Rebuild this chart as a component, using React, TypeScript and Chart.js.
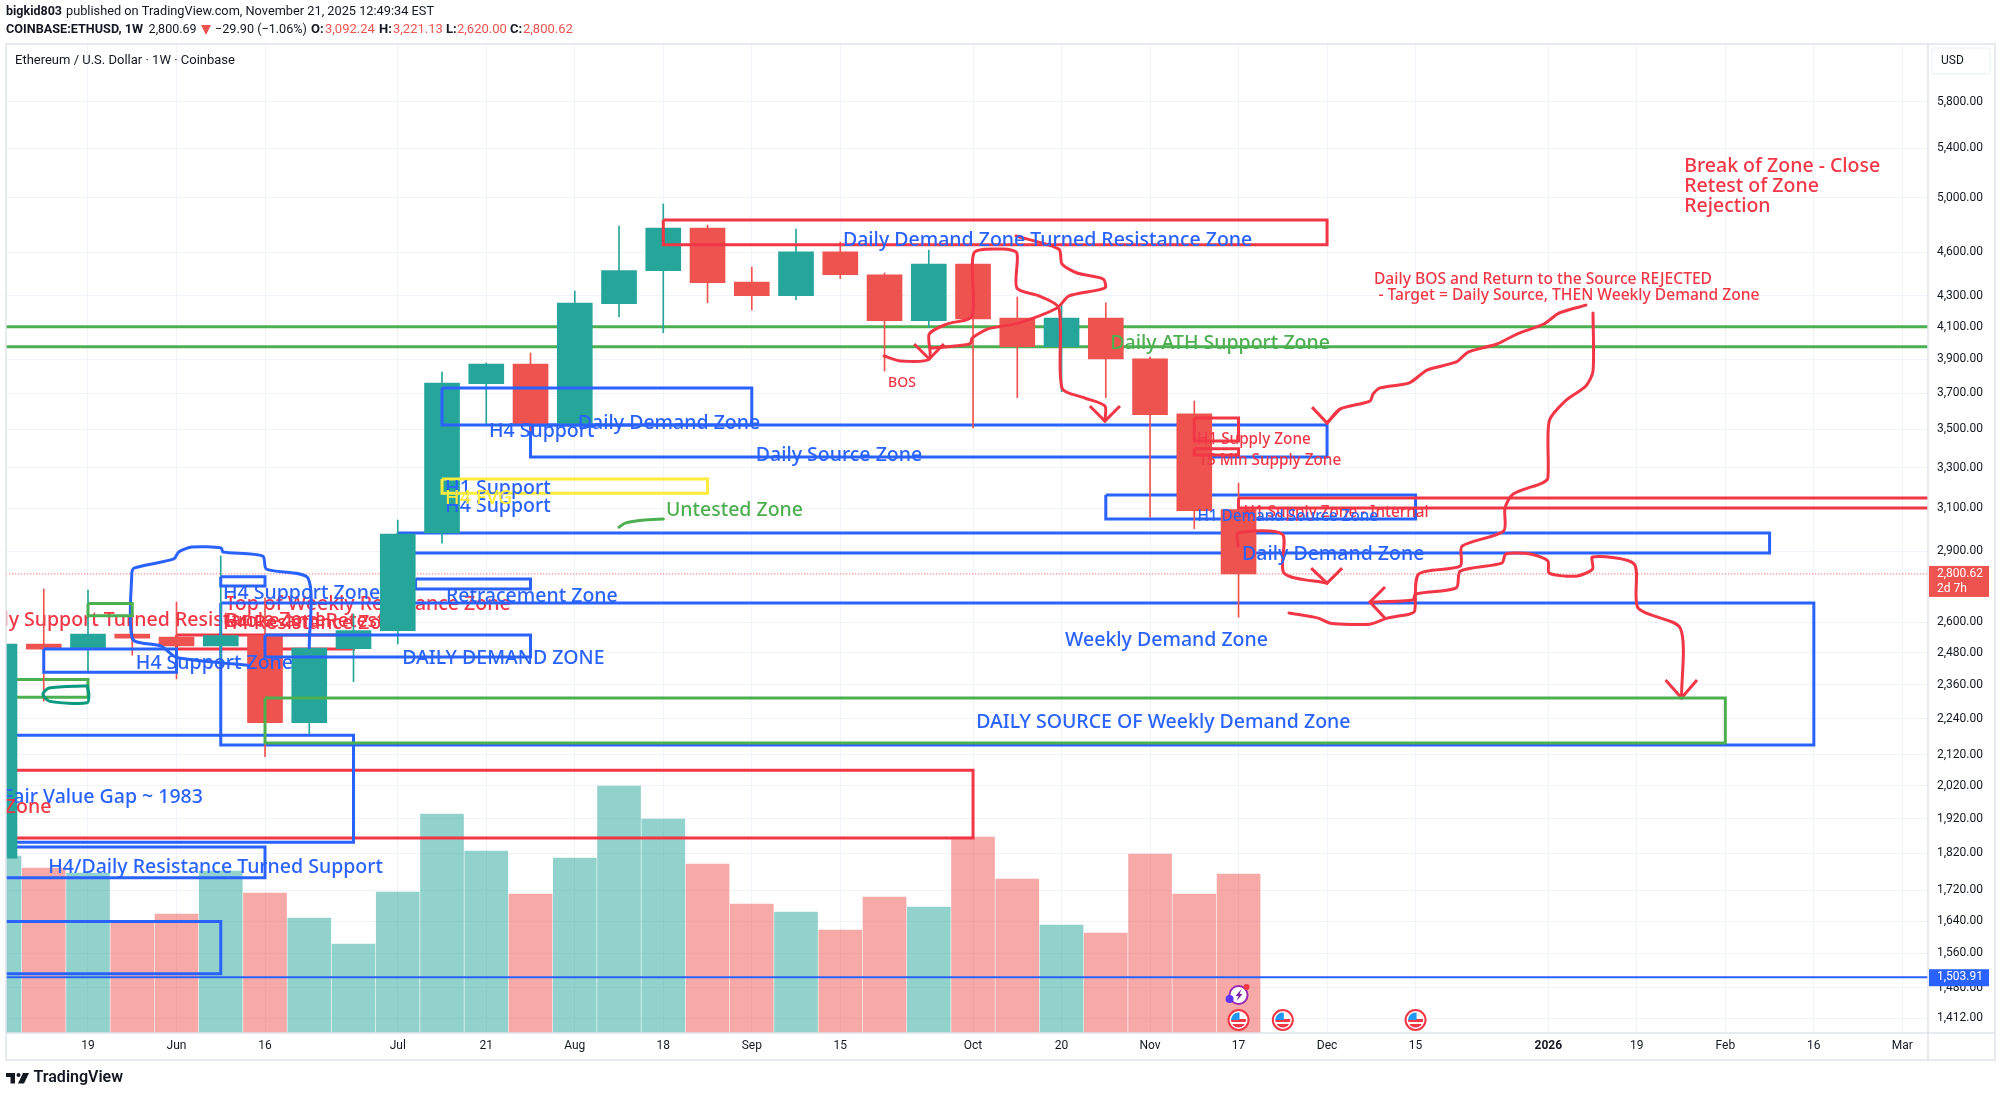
import React, { useEffect, useRef } from "react";
import { Chart, registerables } from "chart.js";

Chart.register(...registerables);

// ---- weekly candles: week index 0 = 19 May 2025 ----
const weeks = [-2, -1, 0, 1, 2, 3, 4, 5, 6, 7, 8, 9, 10, 11, 12, 13, 14, 15, 16, 17, 18, 19, 20, 21, 22, 23, 24, 25, 26];
const opens = [1807, 2514, 2494, 2553, 2541, 2506, 2547, 2227, 2496, 2566, 2983, 3755, 3871, 3518, 4248, 4470, 4774, 4392, 4301, 4601, 4442, 4138, 4516, 4155, 3975, 4155, 3902, 3584, 3092.24];
const closes = [2514, 2494, 2553, 2537, 2506, 2547, 2227, 2498, 2566, 2978, 3759, 3871, 3523, 4252, 4470, 4774, 4388, 4301, 4601, 4442, 4138, 4516, 4150, 3975, 4155, 3902, 3580, 3087, 2800.62];
const highs = [2600, 2736, 2732, 2641, 2682, 2879, 2699, 2565, 2633, 3043, 3823, 3877, 3937, 4332, 4788, 4954, 4796, 4495, 4766, 4672, 4454, 4614, 4537, 4292, 4254, 4254, 3913, 3656, 3221.13];
const lows = [1750, 2302, 2408, 2471, 2382, 2441, 2113, 2188, 2372, 2514, 2937, 3523, 3491, 3518, 4163, 4062, 4254, 4207, 4274, 4415, 3829, 4094, 3508, 3675, 3709, 3675, 3057, 3003, 2620];
const volumes = [177, 165, 160, 110, 119, 162, 140, 115, 89, 141, 219, 182, 139, 175, 247, 214, 169, 129, 121, 103, 136, 126, 196, 154, 108, 100, 179, 139, 159];

// ---- axes ----
const priceTicks = [5800, 5400, 5000, 4600, 4300, 4100, 3900, 3700, 3500, 3300, 3100, 2900, 2600, 2480, 2360, 2240, 2120, 2020, 1920, 1820, 1720, 1640, 1560, 1480, 1412];
const timeTickWeeks = [-2, 0, 2, 4, 7, 9, 11, 13, 15, 17, 20, 22, 24, 26, 28, 30, 33, 35, 37, 39, 41];
const timeTickLabels = ["May", "19", "Jun", "16", "Jul", "21", "Aug", "18", "Sep", "15", "Oct", "20", "Nov", "17", "Dec", "15", "2026", "19", "Feb", "16", "Mar"];
const lastPrice = 2800.62;
const markedPrice = 1503.91;
const horizontalGreen = [4100, 3975];
const eventWeeks = [26, 27, 30];

// ---- zones: [fromWeek, toWeek, topPrice, bottomPrice] ----
const blueUnder = [
  [10, 28, 3523, 3354], [23, 30, 3163, 3048], [7, 38, 2983, 2892], [3, 39, 2678, 2151],
  [7.4, 10, 2779, 2736], [-3, 6, 2184, 1852], [-3, 4, 1838, 1753], [-3, 3, 1639, 1512],
];
const blueOver = [[8, 15, 3730, 3523], [4, 10, 2549, 2464], [3, 4, 2789, 2749], [-1, 2, 2495, 2407]];
const redUnder = [[-3, 20, 2069, 1864], [2, 6, 2549, 2495]];
const redOver = [[13, 28, 4833, 4653], [25, 26, 3562, 3438], [25, 26, 3397, 3364], [26, 43, 3148, 3100]];
const greenUnder = [[-3, 0, 2380, 2316]];
const greenOver = [[4, 37, 2313, 2158], [0, 1, 2676, 2626]];
const yellowOver = [[8, 14, 3242, 3172]];

// ---- hand-drawn strokes: [week, price] ----
const strokeA = [[17.99, 3919], [18.37, 3889], [19.01, 3901], [19.01, 4054], [19.41, 4117], [19.98, 4168], [20.02, 4593], [20.68, 4621], [20.99, 4593], [20.99, 4352], [21.49, 4299], [21.94, 4220], [22.01, 3730], [22.53, 3673], [22.98, 3628], [22.98, 3545]];
const strokeB = [[20.97, 4715], [21.94, 4621], [22.01, 4516], [22.35, 4454], [22.94, 4413], [22.98, 4352], [22.17, 4299], [21.9, 4220], [21.02, 4123], [20.34, 4086], [19.98, 4029], [19.93, 3992], [19.07, 3967]];
const strokeC = [[28.0, 3534], [28.29, 3611], [28.97, 3656], [29.04, 3696], [29.2, 3731], [29.86, 3760], [30.26, 3835], [30.92, 3883], [31.19, 3943], [31.84, 3992], [32.29, 4054], [32.9, 4117], [33.24, 4187], [33.85, 4239]];
const strokeD = [[34.01, 4187], [34.01, 3829], [33.85, 3742], [33.38, 3656], [33.02, 3545], [32.99, 3247], [32.86, 3222], [32.2, 3167], [32.02, 3100], [31.99, 2992], [31.05, 2923], [31.01, 2835], [30.07, 2800], [29.98, 2645], [29.87, 2633], [29.36, 2616], [28.97, 2592], [28.07, 2596], [27.8, 2616], [27.14, 2637]];
const strokeE = [[28.97, 2682], [29.94, 2690], [30.0, 2715], [30.92, 2741], [31.01, 2813], [31.95, 2848], [32.04, 2888], [32.59, 2888], [32.99, 2857], [33.02, 2804], [33.63, 2791], [34.0, 2822], [34.0, 2875], [34.94, 2844], [35.03, 2657], [35.98, 2577], [36.01, 2313]];
const strokeF = [[25.99, 2923], [25.99, 2983], [26.99, 2978], [27.03, 2804], [28.0, 2761]];
const arrowHeads = [
  [[18.67, 3992], [19.01, 3901], [19.34, 3992]],
  [[22.64, 3628], [22.98, 3545], [23.32, 3628]],
  [[27.66, 3622], [28.0, 3534], [28.29, 3611]],
  [[29.31, 2745], [28.97, 2682], [29.31, 2616]],
  [[35.65, 2378], [36.01, 2313], [36.36, 2378]],
  [[27.64, 2826], [28.0, 2761], [28.34, 2826]],
];
const strokeBlue = [[3.62, 2433], [2.01, 2462], [1.65, 2506], [1.01, 2533], [0.99, 2804], [1.04, 2826], [1.94, 2866], [2.05, 2897], [2.35, 2919], [3.01, 2915], [3.05, 2897], [3.95, 2879], [4.03, 2822], [4.97, 2783], [5.0, 2500]];
const strokeTeal = [[-0.02, 2357], [-0.88, 2349], [-1.02, 2327], [-0.88, 2302], [-0.02, 2296], [0.02, 2327], [-0.02, 2357]];
const strokeGreen = [[12.0, 3010], [12.14, 3029], [12.56, 3043], [13.0, 3048]];

// ---- labels: [text, week, price] ----
const blueLabels: [string, number, number][] = [
  ["Daily Demand Zone Turned Resistance Zone", 17.06, 4686], ["Daily Demand Zone", 11.07, 3534], ["Daily Source Zone", 15.09, 3364],
  ["H4 Support", 9.06, 3486], ["H4 Support", 8.07, 3110], ["H1 Support", 8.07, 3194],
  ["Daily Demand Zone", 26.08, 2888], ["Weekly Demand Zone", 22.08, 2529], ["DAILY SOURCE OF Weekly Demand Zone", 20.07, 2226],
  ["Retracement Zone", 8.09, 2707], ["H4 Support Zone", 3.05, 2717], ["DAILY DEMAND ZONE", 7.1, 2460], ["H4 Support Zone", 1.08, 2438],
  ["Fair Value Gap ~ 1983", -1.92, 1985], ["H4/Daily Resistance Turned Support", -0.9, 1780],
];
const redLabels: [string, number, number][] = [
  ["Break of Zone - Close", 36.07, 5252], ["Retest of Zone", 36.07, 5093], ["Rejection", 36.07, 4939], ["Zone", -1.88, 1955],
];
const redLabelsUnder: [string, number, number][] = [
  ["Top of Weekly Resistance Zone", 3.1, 2670], ["Weekly Support Turned Resistance Zone", -3.07, 2606],
  ["H4 Resistance Zone", 3.05, 2596], ["Broke and Retest", 3.1, 2604],
];
const greenLabels: [string, number, number][] = [["Untested Zone", 13.06, 3091], ["Daily ATH Support Zone", 23.1, 3998]];
const yellowLabels: [string, number, number][] = [["H4 FVG", 8.07, 3148]];
const noteLabels: [string, number, number][] = [["Daily BOS and Return to the Source REJECTED", 29.06, 4408], ["- Target = Daily Source, THEN Weekly Demand Zone", 29.16, 4299]];
const tinyLabels: [string, number, number][] = [["BOS", 18.08, 3760]];
const smallRedLabels: [string, number, number][] = [["H1 Supply Zone", 25.06, 3443], ["15 Min Supply Zone", 25.09, 3333], ["H1 Supply Zone - Internal", 26.11, 3078]];
const smallBlueLabels: [string, number, number][] = [["H1 Demand Source Zone", 25.07, 3058]];

const BLUE = "#2962ff", RED = "#f23645", GREEN = "#4caf50", YELLOW = "#ffeb3b", TEAL = "#089981";
const UP = "#26a69a", DOWN = "#ef5350";
const TEXT = "#131722";
const LABEL_FONT = '"Noto Sans"';
const UI_FONT = 'Roboto';

const money = (v: number) => v.toLocaleString("en-US", { minimumFractionDigits: 2, maximumFractionDigits: 2 });
const pts = (a: number[][]) => a.map(([x, y]) => ({ x, y }));
const rectPts = ([a, b, t, u]: number[]) => [{ x: a, y: t }, { x: b, y: t }, { x: b, y: u }, { x: a, y: u }, { x: a, y: t }];

function lineSet(data: any[], color: string, order: number, width = 3, tension = 0, extra: any = {}) {
  return {
    type: "line", data, borderColor: color, borderWidth: width, pointRadius: 0, pointHoverRadius: 0, fill: false, tension,
    order, clip: 0, borderJoinStyle: tension ? "round" : "miter", borderCapStyle: tension ? "round" : "butt", xAxisID: "x", yAxisID: "y", ...extra,
  };
}

const chromePlugin = {
  id: "chrome",
  beforeDatasetsDraw(chart: any) {
    drawLabels(chart, redLabelsUnder, RED, 19.5);
  },
  afterDatasetsDraw(chart: any) {
    drawLabels(chart, blueLabels, BLUE, 19.5);
    drawLabels(chart, redLabels, RED, 19.5);
    drawLabels(chart, greenLabels, GREEN, 19.5);
    drawLabels(chart, yellowLabels, YELLOW, 19.5);
    drawLabels(chart, noteLabels, RED, 15.6);
    drawLabels(chart, tinyLabels, RED, 14);
    drawLabels(chart, smallRedLabels, RED, 15.3);
    drawLabels(chart, smallBlueLabels, BLUE, 15.3);
    drawEvents(chart);
  },
  afterDraw(chart: any) {
    const { ctx, chartArea: a } = chart;
    ctx.save();
    // frame
    ctx.strokeStyle = "#e0e3eb";
    ctx.lineWidth = 1.5;
    ctx.strokeRect(6, 44, 1989, 1016);
    ctx.beginPath();
    ctx.moveTo(a.right, 44); ctx.lineTo(a.right, 1060);
    ctx.moveTo(6, a.bottom); ctx.lineTo(1995, a.bottom);
    ctx.stroke();
    // header
    ctx.textBaseline = "middle";
    ctx.fillStyle = TEXT;
    ctx.font = `bold 13px ${UI_FONT}`;
    ctx.fillText("bigkid803", 6, 12, 56);
    ctx.font = `13px ${UI_FONT}`;
    ctx.fillText("published on TradingView.com, November 21, 2025 12:49:34 EST", 66, 12, 368);
    ctx.font = `bold 13px ${UI_FONT}`;
    ctx.fillText("COINBASE:ETHUSD, 1W", 6, 30, 137);
    ctx.font = `13px ${UI_FONT}`;
    ctx.fillText("2,800.69", 148.6, 30, 48);
    ctx.fillText("\u221229.90 (\u22121.06%)", 215, 30, 92);
    ctx.fillStyle = DOWN;
    ctx.beginPath(); ctx.moveTo(201, 25); ctx.lineTo(211, 25); ctx.lineTo(206, 35); ctx.closePath(); ctx.fill();
    const ohlc: [string, number, string, number][] = [["O:", 311, "3,092.24", 325], ["H:", 379, "3,221.13", 393], ["L:", 446, "2,620.00", 457], ["C:", 510, "2,800.62", 523]];
    ohlc.forEach(([k, kx, v, vx]) => {
      ctx.fillStyle = TEXT; ctx.font = `bold 13px ${UI_FONT}`; ctx.fillText(k, kx, 30);
      ctx.fillStyle = DOWN; ctx.font = `13px ${UI_FONT}`; ctx.fillText(v, vx, 30, 50);
    });
    ctx.fillStyle = TEXT;
    ctx.font = `13px ${UI_FONT}`;
    ctx.fillText("Ethereum / U.S. Dollar \u00b7 1W \u00b7 Coinbase", 15, 60.5, 222);
    // currency button
    ctx.strokeStyle = "#f0f3fa"; ctx.lineWidth = 1.5;
    ctx.beginPath(); ctx.roundRect(1932, 48, 58, 26, 3); ctx.stroke();
    ctx.fillStyle = TEXT; ctx.font = `12px ${UI_FONT}`;
    ctx.fillText("USD", 1941, 61);
    // price tags
    const y = chart.scales.y;
    const lastY = y.getPixelForValue(lastPrice);
    ctx.fillStyle = DOWN; ctx.fillRect(a.right + 1, lastY - 8, 60, 31);
    ctx.fillStyle = "#fff"; ctx.font = `12px ${UI_FONT}`;
    ctx.fillText(money(lastPrice), 1937, lastY);
    ctx.fillText("2d 7h", 1937, lastY + 15);
    const markY = y.getPixelForValue(markedPrice);
    ctx.fillStyle = BLUE; ctx.fillRect(a.right + 1, markY - 8, 60, 17);
    ctx.fillStyle = "#fff";
    ctx.fillText(money(markedPrice), 1937, markY);
    // logo
    ctx.fillStyle = TEXT;
    ctx.fillRect(6, 1073, 9, 4); ctx.fillRect(10.5, 1073, 4.5, 10.5);
    ctx.beginPath(); ctx.arc(18.5, 1075, 2, 0, Math.PI * 2); ctx.fill();
    ctx.beginPath(); ctx.moveTo(23, 1073); ctx.lineTo(29, 1073); ctx.lineTo(24, 1083.5); ctx.lineTo(18, 1083.5); ctx.closePath(); ctx.fill();
    ctx.font = `600 16px ${UI_FONT}`;
    ctx.fillText("TradingView", 33.5, 1078, 92);
    ctx.restore();
  },
};

function drawLabels(chart: any, list: [string, number, number][], color: string, size: number) {
  const { ctx, chartArea: a, scales } = chart;
  ctx.save();
  ctx.beginPath(); ctx.rect(a.left, a.top, a.right - a.left, a.bottom - a.top); ctx.clip();
  ctx.fillStyle = color;
  ctx.font = `500 ${size}px ${LABEL_FONT}`;
  ctx.textBaseline = "middle";
  list.forEach(([t, w, p]) => ctx.fillText(t, scales.x.getPixelForValue(w), scales.y.getPixelForValue(p)));
  ctx.restore();
}

function drawEvents(chart: any) {
  const { ctx, chartArea: a, scales } = chart;
  ctx.save();
  eventWeeks.forEach((w) => {
    const cx = scales.x.getPixelForValue(w), cy = a.bottom - 13;
    ctx.beginPath(); ctx.arc(cx, cy, 10, 0, Math.PI * 2); ctx.fillStyle = "#fff"; ctx.fill();
    ctx.lineWidth = 2; ctx.strokeStyle = RED; ctx.stroke();
    ctx.save();
    ctx.beginPath(); ctx.arc(cx, cy, 7.5, 0, Math.PI * 2); ctx.clip();
    ctx.fillStyle = RED; ctx.fillRect(cx - 8, cy - 1, 16, 3); ctx.fillRect(cx - 8, cy + 4, 16, 4);
    ctx.fillStyle = "#2196f3"; ctx.fillRect(cx - 8, cy - 8, 9, 8);
    ctx.restore();
  });
  const bx = scales.x.getPixelForValue(eventWeeks[0]), by = a.bottom - 38;
  ctx.beginPath(); ctx.arc(bx, by, 9, 0, Math.PI * 2); ctx.fillStyle = "#fff"; ctx.fill();
  ctx.lineWidth = 2; ctx.strokeStyle = "#9c27b0"; ctx.stroke();
  ctx.fillStyle = "#7b1fa2";
  ctx.beginPath(); ctx.moveTo(bx + 3, by - 6); ctx.lineTo(bx - 3, by + 1); ctx.lineTo(bx, by + 1); ctx.lineTo(bx - 2, by + 6); ctx.lineTo(bx + 4, by - 1); ctx.lineTo(bx + 1, by - 1); ctx.closePath(); ctx.fill();
  ctx.fillStyle = "#5e35f5";
  ctx.beginPath(); ctx.arc(bx - 9, by + 4, 4, 0, Math.PI * 2); ctx.fill();
  ctx.fillStyle = RED;
  ctx.beginPath(); ctx.arc(bx + 8, by - 8, 3, 0, Math.PI * 2); ctx.fill();
  ctx.restore();
}

export default function App() {
  const ref = useRef<HTMLCanvasElement>(null);
  useEffect(() => {
    document.body.style.margin = "0";
    document.body.style.background = "#fff";
    const colorOf = (i: number) => (closes[i] >= opens[i] ? UP : DOWN);
    const underOrder = 60, overOrder = 10;
    const datasets: any[] = [
      {
        type: "bar", data: weeks.map((x, i) => ({ x, y: volumes[i] })), yAxisID: "vol", xAxisID: "x",
        backgroundColor: weeks.map((_, i) => (closes[i] >= opens[i] ? "rgba(38,166,154,0.5)" : "rgba(239,83,80,0.5)")),
        barThickness: 43, grouped: false, order: 90,
      },
      {
        type: "bar", data: weeks.map((x, i) => ({ x, y: [lows[i], highs[i]] })), yAxisID: "y", xAxisID: "x",
        backgroundColor: weeks.map((_, i) => colorOf(i)), barThickness: 1, grouped: false, order: 40,
      },
      {
        type: "bar", data: weeks.map((x, i) => ({ x, y: [opens[i], closes[i]] })), yAxisID: "y", xAxisID: "x",
        backgroundColor: weeks.map((_, i) => colorOf(i)), barThickness: 35, grouped: false, order: 30,
      },
      lineSet([{ x: -3, y: lastPrice }, { x: 43, y: lastPrice }], DOWN, 80, 1, 0, { borderDash: [1, 2] }),
      lineSet([{ x: -3, y: markedPrice }, { x: 43, y: markedPrice }], BLUE, overOrder, 2),
      ...horizontalGreen.map((p) => lineSet([{ x: -3, y: p }, { x: 43, y: p }], GREEN, underOrder)),
      ...blueUnder.map((z) => lineSet(rectPts(z), BLUE, underOrder)),
      ...redUnder.map((z) => lineSet(rectPts(z), RED, underOrder)),
      ...greenUnder.map((z) => lineSet(rectPts(z), GREEN, underOrder)),
      ...blueOver.map((z) => lineSet(rectPts(z), BLUE, overOrder)),
      ...redOver.map((z) => lineSet(rectPts(z), RED, overOrder)),
      ...greenOver.map((z) => lineSet(rectPts(z), GREEN, overOrder)),
      ...yellowOver.map((z) => lineSet(rectPts(z), YELLOW, overOrder)),
      ...[strokeA, strokeB, strokeC, strokeD, strokeE, strokeF].map((s) => lineSet(pts(s), RED, overOrder, 3, 0.25)),
      ...arrowHeads.map((s) => lineSet(pts(s), RED, overOrder, 3, 0)),
      lineSet(pts(strokeBlue), BLUE, overOrder, 3, 0.25),
      lineSet(pts(strokeTeal), TEAL, overOrder, 3, 0.25),
      lineSet(pts(strokeGreen), GREEN, overOrder, 3, 0.25),
    ];
    const chart = new Chart(ref.current!, {
      type: "bar",
      data: { datasets },
      plugins: [chromePlugin],
      options: {
        animation: false,
        responsive: false,
        devicePixelRatio: 1,
        events: [],
        layout: { padding: { left: 6, right: 6, top: 45, bottom: 36 } },
        plugins: { legend: { display: false }, tooltip: { enabled: false } },
        scales: {
          x: {
            type: "linear", position: "bottom", min: -1.853, max: 41.58, offset: false, bounds: "data",
            grid: { color: "#f0f3fa", lineWidth: 1, offset: false, drawTicks: false },
            border: { display: false },
            afterBuildTicks: (s: any) => { s.ticks = timeTickWeeks.filter((w) => w >= -1.853).map((value) => ({ value })); },
            afterFit: (s: any) => { s.height = 28; },
            ticks: {
              autoSkip: false, maxRotation: 0, minRotation: 0, padding: 6, color: TEXT,
              font: (c: any) => ({ family: UI_FONT, size: 12, weight: c.tick && c.tick.value === 33 ? "bold" : "normal" }),
              callback: (v: any) => timeTickLabels[timeTickWeeks.indexOf(v)],
            },
          },
          y: {
            type: "logarithmic", position: "right", min: 1380, max: 6330, bounds: "data",
            grid: { color: "#f0f3fa", lineWidth: 1, drawTicks: false },
            border: { display: false },
            afterBuildTicks: (s: any) => { s.ticks = priceTicks.map((value) => ({ value })); },
            afterFit: (s: any) => { s.width = 67; },
            ticks: {
              autoSkip: false, padding: 9, color: TEXT, font: { family: UI_FONT, size: 12 },
              callback: (v: any) => money(Number(v)),
            },
          },
          vol: { type: "linear", display: false, min: 0, max: 988, position: "left", grid: { display: false } },
        },
      } as any,
    } as any);
    return () => chart.destroy();
  }, []);
  return (
    <div style={{ position: "fixed", left: 0, top: 0, width: 2001, height: 1097, overflow: "hidden", background: "#fff" }}>
      <canvas ref={ref} width={2001} height={1097} style={{ display: "block" }} />
    </div>
  );
}
